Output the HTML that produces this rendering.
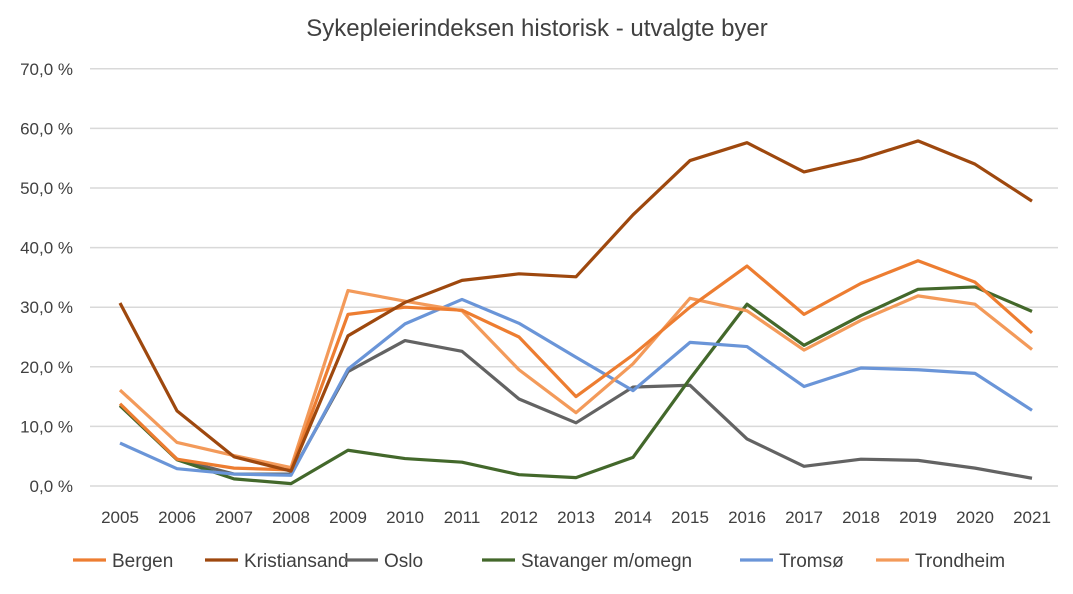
<!DOCTYPE html>
<html><head><meta charset="utf-8"><style>
body{margin:0;background:#fff;font-family:"Liberation Sans",sans-serif;}
svg text{font-family:"Liberation Sans",sans-serif;fill:#404040;}
</style></head><body>
<svg id="chart" width="1073" height="589" xmlns="http://www.w3.org/2000/svg">
<text x="537" y="36" text-anchor="middle" font-size="24">Sykepleierindeksen historisk - utvalgte byer</text>
<g id="grid"></g><g id="series"></g><g id="legend"></g>
</svg>
<script>
const years=[2005,2006,2007,2008,2009,2010,2011,2012,2013,2014,2015,2016,2017,2018,2019,2020,2021];
const yTicks=[0,10,20,30,40,50,60,70];
const seriesNames=["Bergen","Kristiansand","Oslo","Stavanger m/omegn","Tromsø","Trondheim"];
const bergen=[13.8,4.5,3.0,2.7,28.8,30,29.5,25,15,22,30,36.9,28.8,34,37.8,34.2,25.7];
const kristiansand=[30.7,12.6,4.9,2.5,25.2,30.8,34.5,35.6,35.1,45.5,54.6,57.6,52.7,54.9,57.9,54,47.8];
const oslo=[13.5,4.5,2.0,2.0,19.2,24.4,22.6,14.6,10.6,16.6,16.9,7.9,3.3,4.5,4.3,3.0,1.3];
const stavanger=[13.5,4.4,1.2,0.4,6.0,4.6,4.0,1.9,1.4,4.8,18,30.5,23.6,28.6,33,33.4,29.3];
const tromso=[7.2,2.9,2.0,1.8,19.6,27.2,31.3,27.3,21.6,16.0,24.1,23.4,16.7,19.8,19.5,18.9,12.7];
const trondheim=[16.1,7.3,5.1,3.1,32.8,31,29.4,19.5,12.3,20.5,31.5,29.4,22.8,27.8,31.9,30.5,22.9];

const NS="http://www.w3.org/2000/svg";
const xS=i=>120+i*57;
const yS=v=>486-v*5.96;
const grid=document.getElementById('grid');
yTicks.forEach(t=>{
  const l=document.createElementNS(NS,'line');
  
  
  l.setAttribute('x1',90);l.setAttribute('x2',1058);
  l.setAttribute('y1',yS(t));l.setAttribute('y2',yS(t));
  l.setAttribute('stroke','#d9d9d9');l.setAttribute('stroke-width','1.5');
  grid.appendChild(l);
  const tx=document.createElementNS(NS,'text');
  
  
  tx.setAttribute('x',73);tx.setAttribute('y',yS(t)+6);
  tx.setAttribute('text-anchor','end');tx.setAttribute('font-size','17');
  tx.textContent=t.toFixed(1).replace('.',',')+' %';
  grid.appendChild(tx);
});
years.forEach((y,i)=>{
  const tx=document.createElementNS(NS,'text');
  
  
  tx.setAttribute('x',xS(i));tx.setAttribute('y',523);
  tx.setAttribute('text-anchor','middle');tx.setAttribute('font-size','17');
  tx.textContent=y;
  grid.appendChild(tx);
});
const data=[bergen,kristiansand,oslo,stavanger,tromso,trondheim];
const colors=["#ED7D31","#9E480E","#636363","#43682B","#6A95D8","#F39A5A"];
const order=[2,3,4,5,0,1];
const sg=document.getElementById('series');
order.forEach(k=>{
  const p=document.createElementNS(NS,'polyline');
  
  
  p.setAttribute('points',data[k].map((v,i)=>xS(i)+','+yS(v)).join(' '));
  p.setAttribute('fill','none');p.setAttribute('stroke',colors[k]);
  p.setAttribute('stroke-width','3.2');p.setAttribute('stroke-linejoin','round');
  sg.appendChild(p);
});
const lx=[73,205,345,482,740,876];
const lg=document.getElementById('legend');
seriesNames.forEach((n,k)=>{
  const g=document.createElementNS(NS,'g');
  
  
  const l=document.createElementNS(NS,'line');
  l.setAttribute('x1',lx[k]);l.setAttribute('x2',lx[k]+33);
  l.setAttribute('y1',560);l.setAttribute('y2',560);
  l.setAttribute('stroke',colors[k]);l.setAttribute('stroke-width','3.2');
  g.appendChild(l);
  const t=document.createElementNS(NS,'text');
  t.setAttribute('x',lx[k]+39);t.setAttribute('y',567);t.setAttribute('font-size','19');
  t.textContent=n;
  g.appendChild(t);
  lg.appendChild(g);
});
</script>
</body></html>
